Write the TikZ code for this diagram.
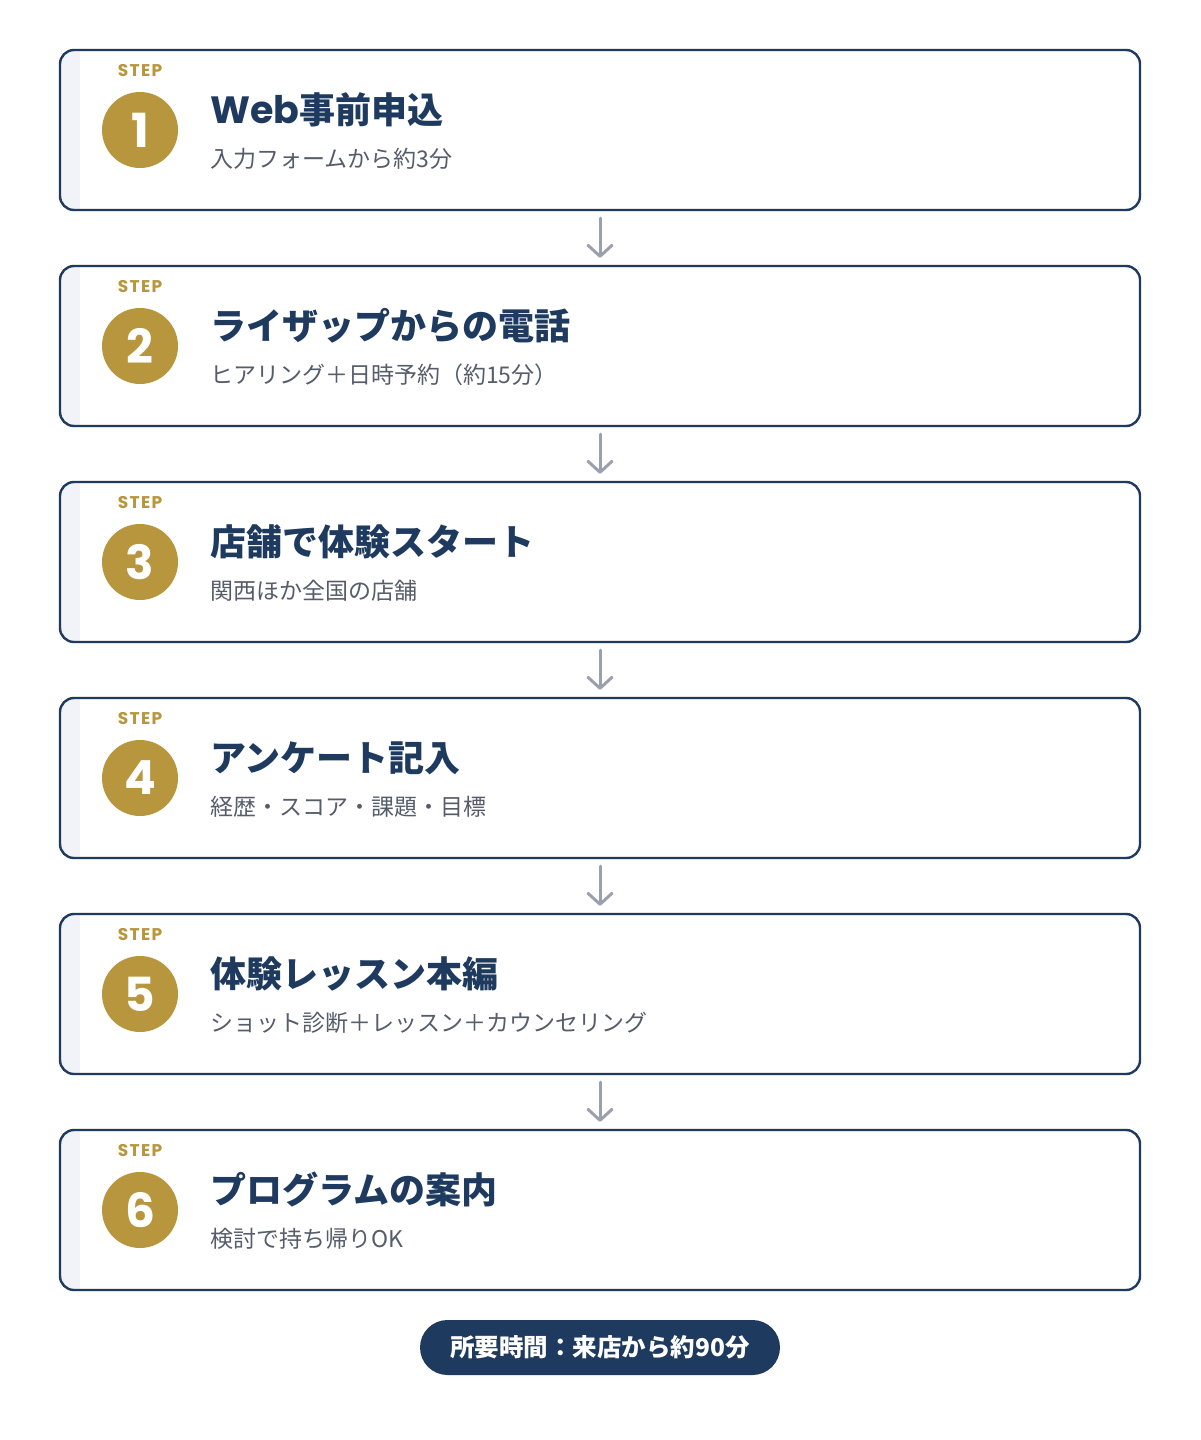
\documentclass[tikz,border=0pt]{standalone}
\usepackage{fontspec}
\setmainfont{Noto Sans CJK JP}
\newfontfamily\jpfont{Noto Sans CJK JP}
\newfontfamily\popfont{Poppins}
\newfontfamily\popstepfont[LetterSpace=8]{Poppins}
\usetikzlibrary{arrows.meta}
\definecolor{navy}{HTML}{1F3A5F}
\definecolor{gold}{HTML}{B8963E}
\definecolor{subgray}{HTML}{555D6B}
\definecolor{arrowgray}{HTML}{9AA1AD}
\definecolor{stripe}{HTML}{F1F3F8}
\tikzset{
  stepbox/.style={draw=navy, line width=2.4pt, rounded corners=14pt, minimum width=1080pt, minimum height=160pt, inner sep=0pt},
  steplbl/.style={text=gold, font=\popstepfont\bfseries\fontsize{17}{20}\selectfont, inner sep=0pt},
  numcirc/.style={circle, fill=gold, minimum size=76pt, inner sep=0pt, text=white, font=\popfont\bfseries\fontsize{47}{50}\selectfont},
  titletxt/.style={text=navy, font=\jpfont\bfseries\fontsize{36}{40}\selectfont, inner sep=0pt, anchor=base west},
  subtxt/.style={text=subgray, font=\jpfont\fontsize{23}{26}\selectfont, inner sep=0pt, anchor=base west},
  flowarrow/.style={draw=arrowgray, line width=3pt, line cap=round, shorten <=7pt, shorten >=7pt, -{Straight Barb[length=11pt,width=24pt,line cap=round,line join=round]}},
  pill/.style={fill=navy, rounded corners=27.5pt, minimum width=360pt, minimum height=55pt, inner sep=0pt, text=white, font=\jpfont\bfseries\fontsize{24.5}{28}\selectfont}
}
\begin{document}
\begin{tikzpicture}[x=1pt,y=-1pt]
\useasboundingbox (0,0) rectangle (1200,1440);
\fill[white] (0,0) rectangle (1200,1440);
\foreach \i/\ttl/\sbt in {
  1/{\popfont\fontsize{38}{40}\selectfont Web}事前申込/入力フォームから約3分,
  2/ライザップからの電話/ヒアリング＋日時予約（約15分）,
  3/店舗で体験スタート/関西ほか全国の店舗,
  4/アンケート記入/経歴・スコア・課題・目標,
  5/体験レッスン本編/ショット診断＋レッスン＋カウンセリング,
  6/プログラムの案内/検討で持ち帰りOK}{
  \pgfmathsetmacro\yo{50+216*(\i-1)}
  \begin{scope}
    \clip[rounded corners=14pt] (60,\yo) rectangle (1140,\yo+160);
    \fill[white] (60,\yo) rectangle (1140,\yo+160);
    \fill[stripe] (60,\yo) rectangle (80,\yo+160);
  \end{scope}
  \node[stepbox] (box\i) at (600,\yo+80) {};
  \node[steplbl, anchor=base] (st\i) at (140,\yo+26) {STEP};
  \node[numcirc] (num\i) at (140,\yo+80) {\i};
  \node[titletxt] (ttl\i) at (210,\yo+73) {\ttl};
  \node[subtxt] (sub\i) at (210,\yo+117) {\sbt};
}
\foreach \i [evaluate=\i as \j using int(\i+1)] in {1,...,5}{
  \draw[flowarrow] (box\i.south) -- (box\j.north);
}
\node[pill] (total) at (600,1347.5) {所要時間：来店から約90分};
\end{tikzpicture}
\end{document}
